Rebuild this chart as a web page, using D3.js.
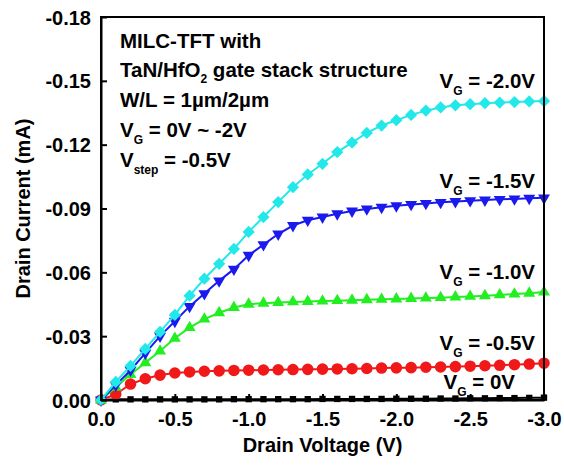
<!DOCTYPE html>
<html lang="en">
<head>
  <meta charset="UTF-8">
  <title>MILC-TFT Id-Vd</title>
  <script src="https://d3js.org/d3.v7.min.js"></script>
  <style>
    body { margin: 0; background: #fff; }
    svg { display: block; font-family: "Liberation Sans", Arial, sans-serif; font-weight: bold; }
  </style>
</head>
<body>
<svg id="chart" width="564" height="465"></svg>
<script>
// drain voltage (V), shared by every curve
const vd = [0, -0.1, -0.2, -0.3, -0.4, -0.5, -0.6, -0.7, -0.8, -0.9, -1.0,
  -1.1, -1.2, -1.3, -1.4, -1.5, -1.6, -1.7, -1.8, -1.9, -2.0,
  -2.1, -2.2, -2.3, -2.4, -2.5, -2.6, -2.7, -2.8, -2.9, -3.0];

// drain current (mA) per gate voltage
const idVg0 = [0, -0.0003, -0.0003, -0.0003, -0.0003, -0.0003, -0.0003, -0.0003, -0.0003, -0.0004, -0.0004,
  -0.0004, -0.0004, -0.0004, -0.0004, -0.0005, -0.0005, -0.0005, -0.0005, -0.0005, -0.0006,
  -0.0006, -0.0006, -0.0007, -0.0007, -0.0008, -0.0008, -0.0009, -0.0009, -0.0010, -0.0011];
const idVg05 = [0, -0.0027, -0.0075, -0.0100, -0.0117, -0.0127, -0.0132, -0.0135, -0.0137, -0.0139, -0.0140,
  -0.0141, -0.0142, -0.0143, -0.0144, -0.0145, -0.0146, -0.0147, -0.0148, -0.0150, -0.0151,
  -0.0152, -0.0154, -0.0155, -0.0157, -0.0159, -0.0161, -0.0163, -0.0166, -0.0169, -0.0173];
const idVg10 = [0, -0.0060, -0.0120, -0.0175, -0.0230, -0.0290, -0.0340, -0.0380, -0.0410, -0.0435, -0.0450,
  -0.0455, -0.0458, -0.0461, -0.0463, -0.0465, -0.0467, -0.0469, -0.0471, -0.0473, -0.0475,
  -0.0477, -0.0479, -0.0481, -0.0484, -0.0487, -0.0490, -0.0494, -0.0498, -0.0502, -0.0507];
const idVg15 = [0, -0.0070, -0.0140, -0.0220, -0.0300, -0.0370, -0.0440, -0.0500, -0.0560, -0.0615, -0.0680,
  -0.0730, -0.0780, -0.0820, -0.0845, -0.0860, -0.0875, -0.0888, -0.0898, -0.0906, -0.0913,
  -0.0919, -0.0924, -0.0929, -0.0933, -0.0937, -0.0940, -0.0943, -0.0945, -0.0948, -0.0950];
const idVg20 = [0, -0.0085, -0.0160, -0.0240, -0.0320, -0.0400, -0.0490, -0.0570, -0.0640, -0.0710, -0.0790,
  -0.0860, -0.0930, -0.1000, -0.1060, -0.1110, -0.1165, -0.1210, -0.1255, -0.1290, -0.1315,
  -0.1340, -0.1360, -0.1375, -0.1385, -0.1390, -0.1395, -0.1398, -0.1400, -0.1403, -0.1405];

const xTicks = [0, -0.5, -1.0, -1.5, -2.0, -2.5, -3.0];
const yTicks = [0, -0.03, -0.06, -0.09, -0.12, -0.15, -0.18];

const series = [
  { values: idVg0,  color: "#000000", shape: "square",  label: "0V",    labelY: 389, labelX: 515 },
  { values: idVg05, color: "#f01818", shape: "circle",  label: "-0.5V", labelY: 350, labelX: 535 },
  { values: idVg10, color: "#22ee22", shape: "up",      label: "-1.0V", labelY: 279, labelX: 535 },
  { values: idVg15, color: "#1a1aee", shape: "down",    label: "-1.5V", labelY: 188, labelX: 535 },
  { values: idVg20, color: "#22e8ea", shape: "diamond", label: "-2.0V", labelY: 88,  labelX: 535 }
];

const svg = d3.select("#chart");
const mLeft = 101, mRight = 544, mTop = 17, mBottom = 400;

const x = d3.scaleLinear().domain([0, -3.0]).range([mLeft, mRight]);
const y = d3.scaleLinear().domain([0, -0.18]).range([mBottom, mTop]);

// curves
const line = d3.line().x((d, i) => x(vd[i])).y(d => y(d));
const symbols = {
  square:  { type: d3.symbolSquare,   size: 40,  rot: 0 },
  circle:  { type: d3.symbolCircle,   size: 105, rot: 0 },
  up:      { type: d3.symbolTriangle, size: 62,  rot: 0 },
  down:    { type: d3.symbolTriangle, size: 62,  rot: 180 },
  diamond: { type: d3.symbolSquare,   size: 75,  rot: 45 }
};

const plot = svg.append("g");
series.forEach(s => {
  plot.append("path")
    .attr("d", line(s.values))
    .attr("fill", "none")
    .attr("stroke", s.color)
    .attr("stroke-width", 2);
  const sym = symbols[s.shape];
  plot.append("g")
    .selectAll("path")
    .data(s.values)
    .join("path")
      .attr("d", d3.symbol().type(sym.type).size(sym.size))
      .attr("transform", (d, i) => `translate(${x(vd[i])},${y(d)}) rotate(${sym.rot})`)
      .attr("fill", s.color);
});

// frame and axes
svg.append("rect")
  .attr("x", mLeft).attr("y", mTop)
  .attr("width", mRight - mLeft).attr("height", mBottom - mTop)
  .attr("fill", "none").attr("stroke", "#000").attr("stroke-width", 2);

const xAxis = svg.append("g")
  .attr("transform", `translate(0,${mBottom})`)
  .call(d3.axisBottom(x).tickValues(xTicks).tickSizeInner(-6).tickSizeOuter(0)
    .tickPadding(12).tickFormat(d => d.toFixed(1)));
const yAxis = svg.append("g")
  .attr("transform", `translate(${mLeft},0)`)
  .call(d3.axisLeft(y).tickValues(yTicks).tickSizeInner(-6).tickSizeOuter(0)
    .tickPadding(10).tickFormat(d => d.toFixed(2)));

[xAxis, yAxis].forEach(a => {
  a.select(".domain").attr("stroke-width", 2);
  a.selectAll(".tick line").attr("stroke-width", 2);
  a.selectAll(".tick text")
    .attr("font-size", 20)
    .attr("font-weight", "bold")
    .attr("font-family", "Liberation Sans, Arial, sans-serif")
    .attr("fill", "#000");
});
yAxis.selectAll(".tick text").attr("dy", "0.35em");

svg.append("text")
  .attr("x", (mLeft + mRight) / 2).attr("y", 452)
  .attr("text-anchor", "middle").attr("font-size", 20)
  .text("Drain Voltage (V)");
svg.append("text")
  .attr("transform", `translate(30,${(mTop + mBottom) / 2}) rotate(-90)`)
  .attr("text-anchor", "middle").attr("font-size", 20)
  .text("Drain Current (mA)");

// annotation block
const note = svg.append("g").attr("font-size", 20.5);
note.append("text").attr("x", 120).attr("y", 48).text("MILC-TFT with");
const l2 = note.append("text").attr("x", 120).attr("y", 77);
l2.append("tspan").text("TaN/HfO");
l2.append("tspan").attr("font-size", 12).attr("dy", 6).text("2");
l2.append("tspan").attr("dy", -6).text(" gate stack structure");
note.append("text").attr("x", 120).attr("y", 107).text("W/L = 1\u00b5m/2\u00b5m");
const l4 = note.append("text").attr("x", 120).attr("y", 137);
l4.append("tspan").text("V");
l4.append("tspan").attr("font-size", 12).attr("dy", 7).text("G");
l4.append("tspan").attr("dy", -7).text(" = 0V ~ -2V");
const l5 = note.append("text").attr("x", 120).attr("y", 167);
l5.append("tspan").text("V");
l5.append("tspan").attr("font-size", 12).attr("dy", 7).text("step");
l5.append("tspan").attr("dy", -7).text(" = -0.5V");

// curve labels
series.forEach(s => {
  const t = svg.append("text")
    .attr("x", s.labelX).attr("y", s.labelY)
    .attr("text-anchor", "end").attr("font-size", 20.5);
  t.append("tspan").text("V");
  t.append("tspan").attr("font-size", 12).attr("dy", 7).text("G");
  t.append("tspan").attr("dy", -7).text(" = " + s.label);
});
</script>
</body>
</html>
